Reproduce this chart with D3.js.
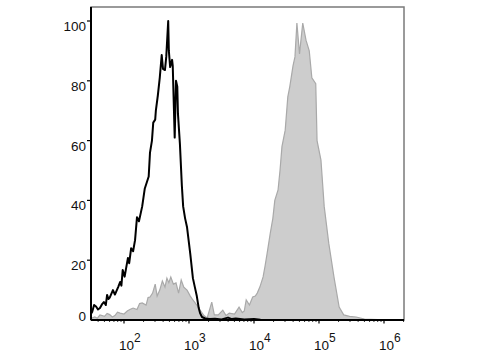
<!DOCTYPE html>
<html>
<head>
<meta charset="utf-8">
<script src="https://cdn.jsdelivr.net/npm/d3@7"></script>
<style>
  body { margin: 0; background: #fff; }
  svg { display: block; font-family: "Liberation Sans", Arial, sans-serif; }
  .tickLabel { font-size: 13.5px; fill: #111; }
</style>
</head>
<body>
<svg id="chart" width="480" height="360"></svg>
<script>
// isotype control (black outline), log10 of fluorescence and % of max
var controlExp = [1.49, 1.51, 1.54, 1.57, 1.60, 1.63, 1.66, 1.69, 1.72, 1.74, 1.76, 1.78, 1.81, 1.83, 1.86, 1.88, 1.91, 1.94, 1.96, 1.98,
  2.01, 2.03, 2.06, 2.08, 2.11, 2.14, 2.17, 2.20, 2.23, 2.26, 2.28, 2.30, 2.32, 2.35, 2.38, 2.40, 2.43, 2.45, 2.48, 2.49,
  2.52, 2.55, 2.58, 2.60, 2.63, 2.65, 2.68, 2.69, 2.71, 2.74, 2.75, 2.78, 2.80, 2.82, 2.83, 2.86, 2.89, 2.91, 2.94, 2.97,
  3.02, 3.06, 3.09, 3.12, 3.15, 3.17, 3.20, 3.25, 3.32, 3.40, 3.50, 3.60, 3.66, 3.72, 3.85, 4.00, 4.10, 4.4, 5.0, 6.31];
var controlCount = [2.0, 2.7, 5.0, 4.5, 3.5, 4.0, 5.2, 6.0, 5.0, 8.4, 7.0, 7.5, 9.0, 10.0, 8.5, 9.5, 11.0, 12.7, 11.5, 16.7,
  14.5, 17.0, 20.7, 19.0, 24.0, 23.0, 26.7, 34.4, 33.0, 36.0, 38.0, 41.0, 44.0, 46.0, 48.0, 56.0, 60.0, 66.0, 67.0, 70.0,
  75.0, 81.0, 88.6, 84.0, 83.6, 88.0, 100, 90.0, 84.6, 87.0, 85.0, 61.0, 80.0, 78.0, 69.0, 59.0, 45.0, 38.0, 34.0, 31.0,
  22.0, 14.0, 11.0, 8.0, 4.0, 2.3, 1.0, 0.5, 0.3, 0.4, 0.2, 0.8, 0.3, 0.5, 0.2, 0.3, 0.1, 0, 0, 0];

// stained sample (grey filled)
var sampleExp = [1.49, 1.55, 1.59, 1.63, 1.70, 1.74, 1.78, 1.82, 1.86, 1.90, 1.94, 2.00, 2.05, 2.09, 2.14, 2.20, 2.24, 2.28, 2.34, 2.37,
  2.40, 2.44, 2.48, 2.51, 2.55, 2.59, 2.63, 2.66, 2.69, 2.72, 2.76, 2.80, 2.84, 2.88, 2.92, 2.97, 3.02, 3.06, 3.12, 3.17,
  3.23, 3.28, 3.35, 3.39, 3.45, 3.52, 3.57, 3.62, 3.70, 3.77, 3.82, 3.85, 3.88, 3.93, 3.98, 4.02, 4.05, 4.09, 4.14, 4.17,
  4.20, 4.25, 4.29, 4.32, 4.37, 4.40, 4.43, 4.48, 4.52, 4.55, 4.60, 4.63, 4.66, 4.70, 4.75, 4.80, 4.85, 4.89, 4.95, 4.97,
  5.03, 5.08, 5.15, 5.23, 5.31, 5.38, 5.47, 5.57, 5.70, 5.90, 6.31];
var sampleCount = [0.5, 1.0, 0.6, 1.7, 1.2, 2.2, 1.8, 1.0, 1.5, 2.6, 2.3, 2.0, 3.0, 3.5, 4.0, 3.5, 5.5, 5.7, 5.0, 7.5,
  7.7, 9.0, 12.0, 8.0, 10.0, 13.0, 11.0, 14.0, 12.5, 14.4, 12.0, 12.4, 9.0, 13.4, 11.0, 10.0, 8.0, 6.7, 5.0, 3.3,
  1.5, 0.7, 6.0, 1.7, 1.7, 3.3, 1.5, 2.3, 2.0, 4.3, 2.5, 3.0, 6.7, 5.0, 7.7, 8.0, 9.0, 11.0, 14.4, 18.0,
  22.0, 29.0, 34.0, 40.0, 43.5, 50.0, 58.0, 63.5, 74.6, 78.0, 85.0, 88.0, 99.3, 89.0, 99.3, 93.6, 90.0, 81.0, 79.0, 60.0,
  53.5, 38.0, 25.7, 14.4, 4.3, 1.7, 1.2, 1.0, 0.3, 0.1, 0];

var xTickExps = [2, 3, 4, 5, 6];
var yTicks = [0, 20, 40, 60, 80, 100];

var svg = d3.select("#chart");
var plotLeft = 91, plotRight = 404, plotTop = 7, plotBottom = 320;

var x = d3.scaleLog().domain([1e2, 1e6]).range([124, 384]);
var y = d3.scaleLinear().domain([0, 100]).range([320, 21]);

var sample = sampleExp.map(function (e, i) { return { v: Math.pow(10, e), c: sampleCount[i] }; });
var control = controlExp.map(function (e, i) { return { v: Math.pow(10, e), c: controlCount[i] }; });

svg.append("clipPath").attr("id", "plotClip")
  .append("rect").attr("x", plotLeft).attr("y", plotTop)
  .attr("width", plotRight - plotLeft).attr("height", plotBottom - plotTop + 1);

var plot = svg.append("g").attr("clip-path", "url(#plotClip)");

var area = d3.area()
  .x(function (d) { return x(d.v); })
  .y0(y(0))
  .y1(function (d) { return y(d.c); });

var line = d3.line()
  .x(function (d) { return x(d.v); })
  .y(function (d) { return y(d.c); });

plot.append("path").datum(sample)
  .attr("d", area)
  .attr("fill", "#cdcdcd");

plot.append("path").datum(sample)
  .attr("d", line)
  .attr("fill", "none")
  .attr("stroke", "#a9a9a9")
  .attr("stroke-width", 1.2);

plot.append("path").datum(control)
  .attr("d", line)
  .attr("fill", "none")
  .attr("stroke", "#000")
  .attr("stroke-width", 2)
  .attr("stroke-linejoin", "round");

// frame: grey top/right, black left/bottom
svg.append("rect")
  .attr("x", plotLeft).attr("y", plotTop)
  .attr("width", plotRight - plotLeft).attr("height", plotBottom - plotTop)
  .attr("fill", "none").attr("stroke", "#7a7a7a").attr("stroke-width", 1.5);
svg.append("line").attr("x1", plotLeft).attr("x2", plotLeft).attr("y1", plotTop).attr("y2", plotBottom)
  .attr("stroke", "#000").attr("stroke-width", 2);
svg.append("line").attr("x1", plotLeft).attr("x2", plotRight).attr("y1", plotBottom).attr("y2", plotBottom)
  .attr("stroke", "#000").attr("stroke-width", 2);

// y ticks
yTicks.forEach(function (t) {
  var ty = y(t);
  if (t > 0) {
    svg.append("line").attr("x1", plotLeft - 4).attr("x2", plotLeft).attr("y1", ty).attr("y2", ty)
      .attr("stroke", "#000").attr("stroke-width", 1.2);
  }
  svg.append("text")
    .attr("class", "tickLabel")
    .attr("x", plotLeft - 5)
    .attr("y", t === 0 ? ty + 1 : ty + 10)
    .attr("text-anchor", "end")
    .text(t);
});

// x ticks, major and minor
for (var k = 1; k <= 6; k++) {
  for (var m = 1; m < 10; m++) {
    var px = x(m * Math.pow(10, k));
    if (px < plotLeft || px > plotRight) continue;
    svg.append("line").attr("x1", px).attr("x2", px)
      .attr("y1", plotBottom).attr("y2", plotBottom + (m === 1 ? 3.5 : 2))
      .attr("stroke", "#000").attr("stroke-width", m === 1 ? 1.2 : 0.8);
  }
}

xTickExps.forEach(function (e) {
  var px = x(Math.pow(10, e));
  var t = svg.append("text")
    .attr("class", "tickLabel")
    .attr("x", px - 5)
    .attr("y", 350);
  t.append("tspan").text("10");
  t.append("tspan").attr("dy", -8).style("font-size", "12px").text(e);
});
</script>
</body>
</html>
